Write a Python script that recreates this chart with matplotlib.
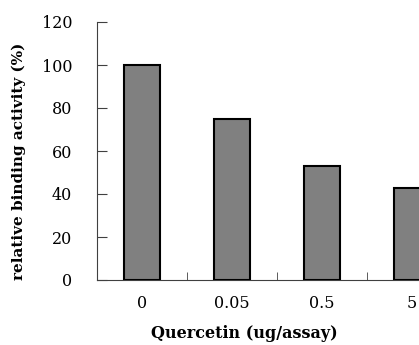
import matplotlib
matplotlib.use("Agg")
import matplotlib.pyplot as plt

# data
doses = ["0", "0.05", "0.5", "5"]
activity = [100, 75, 53, 43]
y_ticks = [0, 20, 40, 60, 80, 100, 120]

plt.rcParams['font.family'] = ['DejaVu Serif']

fig = plt.figure(figsize=(4.19, 3.45), dpi=100)
# axes run past the right edge, like the cropped original
ax = fig.add_axes([97 / 419, 1 - 280 / 345, 360 / 419, 258 / 345])

x = list(range(len(doses)))
ax.bar(x, activity, width=0.4, color="#808080", edgecolor="black", linewidth=1.5, zorder=3)

ax.set_xlim(-0.5, len(doses) - 0.5)
ax.set_ylim(0, 120)
ax.set_yticks(y_ticks)
ax.set_yticklabels([str(v) for v in y_ticks], fontsize=11.5)

ax.set_xticks(x)
ax.set_xticklabels(doses, fontsize=11.5)
ax.tick_params(axis="x", length=0, pad=11)
# tick marks between categories, pointing up
ax.set_xticks([i + 0.5 for i in x[:-1]], minor=True)
ax.tick_params(axis="x", which="minor", direction="in", length=6, color="#404040")
ax.tick_params(axis="y", direction="in", length=7, color="#404040", pad=18)

for side in ["top", "right"]:
    ax.spines[side].set_visible(False)
ax.spines["left"].set_color("#404040")
ax.spines["bottom"].set_color("#404040")

fig.text(19 / 419, 1 - 161 / 345, "relative binding activity (%)", rotation=90,
         ha="center", va="center", fontsize=11, fontweight="bold")
fig.text(244 / 419, 1 - 333 / 345, "Quercetin (ug/assay)",
         ha="center", va="center", fontsize=11.5, fontweight="bold")

fig.savefig("out.png", dpi=100)
